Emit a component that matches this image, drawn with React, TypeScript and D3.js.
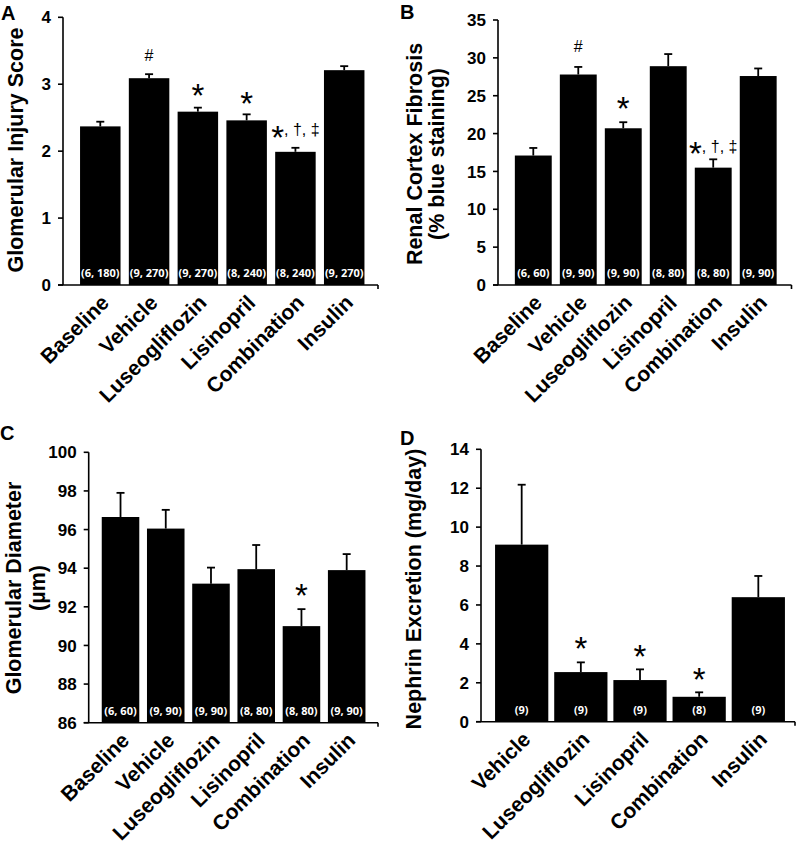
import * as d3 from "d3";

// groups
const groupsABC = ["Baseline", "Vehicle", "Luseogliflozin", "Lisinopril", "Combination", "Insulin"];
const groupsD = ["Vehicle", "Luseogliflozin", "Lisinopril", "Combination", "Insulin"];

// A - glomerular injury score
const injuryMean = [2.37, 3.09, 2.59, 2.46, 1.99, 3.21];
const injurySem = [0.07, 0.06, 0.06, 0.09, 0.06, 0.06];
const injuryN = ["(6, 180)", "(9, 270)", "(9, 270)", "(8, 240)", "(8, 240)", "(9, 270)"];
const injuryMarks = ["", "#", "*", "*", "*, †, ‡", ""];
const injuryMarkAt = [0, 3.34, 2.86, 2.74, 2.24, 0];
const injuryTicks = [0, 1, 2, 3, 4];

// B - renal cortex fibrosis
const fibrosisMean = [17.1, 27.8, 20.7, 28.9, 15.5, 27.6];
const fibrosisSem = [1.0, 1.0, 0.8, 1.6, 1.1, 1.0];
const fibrosisN = ["(6, 60)", "(9, 90)", "(9, 90)", "(8, 80)", "(8, 80)", "(9, 90)"];
const fibrosisMarks = ["", "#", "*", "", "*, †, ‡", ""];
const fibrosisMarkAt = [0, 30.8, 23.55, 0, 17.6, 0];
const fibrosisTicks = [0, 5, 10, 15, 20, 25, 30, 35];

// C - glomerular diameter
const diameterMean = [96.65, 96.05, 93.2, 93.95, 91.0, 93.9];
const diameterSem = [1.25, 0.97, 0.83, 1.25, 0.88, 0.83];
const diameterN = ["(6, 60)", "(9, 90)", "(9, 90)", "(8, 80)", "(8, 80)", "(9, 90)"];
const diameterMarks = ["", "", "", "", "*", ""];
const diameterMarkAt = [0, 0, 0, 0, 92.7, 0];
const diameterTicks = [86, 88, 90, 92, 94, 96, 98, 100];

// D - nephrin excretion
const nephrinMean = [9.1, 2.55, 2.14, 1.28, 6.4];
const nephrinSem = [3.08, 0.5, 0.55, 0.23, 1.09];
const nephrinN = ["(9)", "(9)", "(9)", "(8)", "(9)"];
const nephrinMarks = ["", "*", "*", "*", ""];
const nephrinMarkAt = [0, 3.85, 3.43, 2.28, 0];
const nephrinTicks = [0, 2, 4, 6, 8, 10, 12, 14];

const FONT = "'Liberation Sans', Arial, sans-serif";

function Mark({ x, y, text }) {
  if (!text) return null;
  if (text[0] === "*") {
    const rest = text.slice(1);
    return (
      <text x={x} y={y} textAnchor="middle" fontFamily={FONT} fill="#000">
        <tspan fontSize={33} dy={13.5}>*</tspan>
        {rest && <tspan fontSize={16} dy={-13.5}>{rest}</tspan>}
      </text>
    );
  }
  return (
    <text x={x} y={y} textAnchor="middle" fontFamily={FONT} fontSize={16} fill="#000">
      {text}
    </text>
  );
}

function Panel({ p }) {
  const y = d3.scaleLinear().domain([p.ticks[0], p.ticks[p.ticks.length - 1]]).range([p.yBottom, p.yTop]);
  const x = d3
    .scaleBand()
    .domain(p.groups)
    .range([p.r0, p.r1])
    .paddingInner(p.pad)
    .paddingOuter(p.pad / 2);
  const bw = x.bandwidth();

  return (
    <g>
      <text x={p.letterX} y={p.letterY} fontFamily={FONT} fontWeight="bold" fontSize={20}>
        {p.letter}
      </text>

      {/* y label */}
      {p.yLabel.map((l, i) => (
        <text
          key={i}
          transform={`translate(${l.bx},${p.labelCy}) rotate(-90)`}
          textAnchor="middle"
          fontFamily={FONT}
          fontWeight="bold"
          fontSize={21.5}
        >
          {l.text}
        </text>
      ))}

      {/* bars */}
      {p.groups.map((g, i) => (
        <rect key={g} x={x(g)} y={y(p.mean[i])} width={bw} height={p.yBottom - y(p.mean[i])} fill="#000" />
      ))}

      {/* error bars */}
      {p.groups.map((g, i) => {
        const cx = x(g) + bw / 2;
        const top = y(p.mean[i] + p.sem[i]);
        return (
          <g key={g} stroke="#000" strokeWidth={1.8}>
            <line x1={cx} x2={cx} y1={y(p.mean[i])} y2={top} />
            <line x1={cx - 4} x2={cx + 4} y1={top} y2={top} />
          </g>
        );
      })}

      {/* n labels */}
      {p.groups.map((g, i) => (
        <text
          key={g}
          x={x(g) + bw / 2}
          y={p.yBottom - 8}
          textAnchor="middle"
          fill="#fff"
          fontFamily="'Open Sans', sans-serif"
          fontWeight="bold"
          fontSize={11}
        >
          {p.n[i]}
        </text>
      ))}

      {/* significance marks */}
      {p.groups.map((g, i) => (
        <Mark key={g} x={x(g) + bw / 2} y={y(p.markAt[i])} text={p.marks[i]} />
      ))}

      {/* axes */}
      <g stroke="#000" strokeWidth={1.6}>
        <line x1={p.axisX} x2={p.axisX} y1={p.yTop} y2={p.yBottom} />
        <line x1={p.axisX - 5} x2={p.axisRight} y1={p.yBottom} y2={p.yBottom} />
        <line x1={p.axisRight} x2={p.axisRight} y1={p.yBottom} y2={p.yBottom + 4} />
        {p.ticks.map((t) => (
          <line key={t} x1={p.axisX - 5} x2={p.axisX} y1={y(t)} y2={y(t)} />
        ))}
      </g>
      {p.ticks.map((t) => (
        <text
          key={t}
          x={p.axisX - 12}
          y={y(t)}
          dy="0.36em"
          textAnchor="end"
          fontFamily={FONT}
          fontWeight="bold"
          fontSize={17}
        >
          {t}
        </text>
      ))}

      {/* category labels */}
      {p.groups.map((g) => (
        <text
          key={g}
          transform={`translate(${x(g) + bw / 2 + 10},${p.yBottom + 19}) rotate(-45)`}
          textAnchor="end"
          fontFamily={FONT}
          fontWeight="bold"
          fontSize={21}
        >
          {g}
        </text>
      ))}
    </g>
  );
}

const panels = [
  {
    letter: "A", letterX: 1, letterY: 20,
    groups: groupsABC, mean: injuryMean, sem: injurySem, n: injuryN,
    marks: injuryMarks, markAt: injuryMarkAt, ticks: injuryTicks,
    yTop: 17.3, yBottom: 285, axisX: 63, axisRight: 378, r0: 75.9, r1: 368.6, pad: 0.17,
    yLabel: [{ text: "Glomerular Injury Score", bx: 23 }], labelCy: 150,
  },
  {
    letter: "B", letterX: 400, letterY: 18.5,
    groups: groupsABC, mean: fibrosisMean, sem: fibrosisSem, n: fibrosisN,
    marks: fibrosisMarks, markAt: fibrosisMarkAt, ticks: fibrosisTicks,
    yTop: 20, yBottom: 285, axisX: 498, axisRight: 791.5, r0: 510.8, r1: 780.7, pad: 0.18,
    yLabel: [
      { text: "Renal Cortex Fibrosis", bx: 422 },
      { text: "(% blue staining)", bx: 444 },
    ],
    labelCy: 154,
  },
  {
    letter: "C", letterX: 0, letterY: 440,
    groups: groupsABC, mean: diameterMean, sem: diameterSem, n: diameterN,
    marks: diameterMarks, markAt: diameterMarkAt, ticks: diameterTicks,
    yTop: 452.3, yBottom: 722.7, axisX: 88.7, axisRight: 378, r0: 97.9, r1: 369.3, pad: 0.17,
    yLabel: [
      { text: "Glomerular Diameter", bx: 20.5 },
      { text: "(µm)", bx: 45 },
    ],
    labelCy: 588,
  },
  {
    letter: "D", letterX: 400, letterY: 445,
    groups: groupsD, mean: nephrinMean, sem: nephrinSem, n: nephrinN,
    marks: nephrinMarks, markAt: nephrinMarkAt, ticks: nephrinTicks,
    yTop: 449.3, yBottom: 721.7, axisX: 481, axisRight: 795, r0: 492.1, r1: 787.9, pad: 0.1,
    yLabel: [{ text: "Nephrin Excretion (mg/day)", bx: 420.5 }], labelCy: 589,
  },
];

export default function App() {
  return (
    <svg width={798} height={848} style={{ position: "absolute", left: 0, top: 0, background: "#fff" }}>
      {panels.map((p) => (
        <Panel key={p.letter} p={p} />
      ))}
    </svg>
  );
}
